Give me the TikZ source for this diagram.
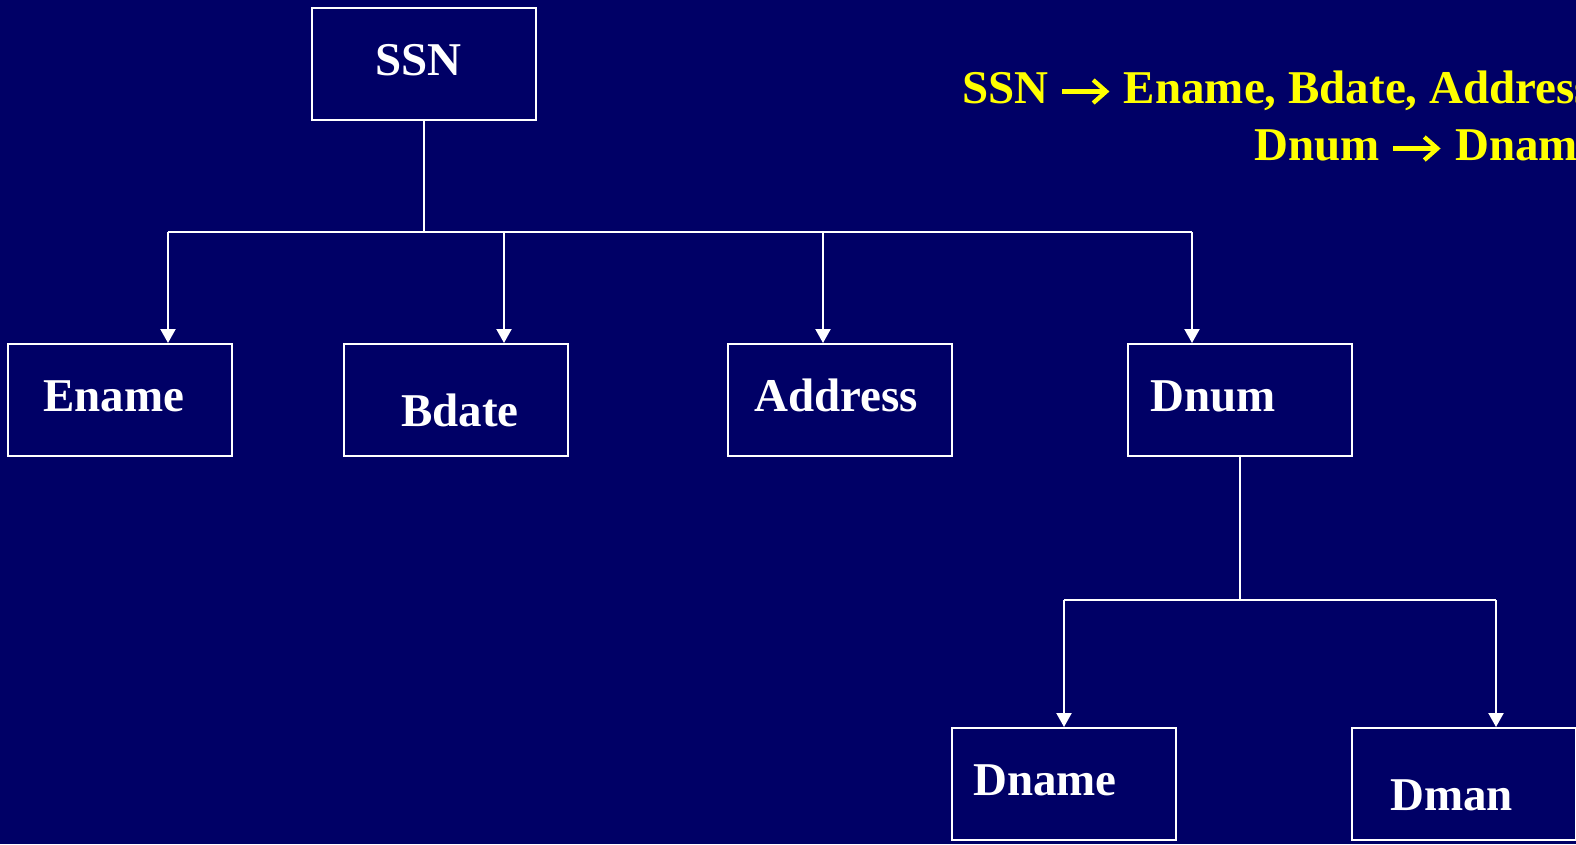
\documentclass[tikz,border=0pt]{standalone}
\usepackage{fontspec}
\setmainfont{Liberation Serif}
\usetikzlibrary{arrows.meta}
\definecolor{navy}{RGB}{0,0,102}
\definecolor{fdyellow}{RGB}{255,255,0}
\newcommand{\fdarrow}{\hspace{2pt}\tikz[baseline=0pt,x=1pt,y=1pt]{%
  \useasboundingbox (0,0) rectangle (50,22);
  \draw[fdyellow,line width=4.3pt] (0,11.5) -- (42,11.5);
  \draw[fdyellow,line width=4.3pt,line join=miter,miter limit=10] (31,23) -- (44,11.5) -- (31,0);}}
\begin{document}
\begin{tikzpicture}[x=1pt,y=-1pt,
  box/.style={draw=white, line width=2pt, minimum width=224pt, minimum height=112pt, inner sep=0pt},
  lbl/.style={text=white, font=\fontsize{47}{56}\selectfont\bfseries, anchor=base west, inner sep=0pt},
  fd/.style={text=fdyellow, font=\fontsize{47}{56}\selectfont\bfseries, anchor=base west, inner sep=0pt},
  conn/.style={draw=white, line width=2.2pt},
  arr/.style={conn, -{Triangle[length=14pt,width=15pt]}}]
\fill[navy] (0,0) rectangle (1576,844);
\useasboundingbox (0,0) rectangle (1576,844);
\clip (0,0) rectangle (1576,844);
% boxes
\node[box] (ssn) at (424,64) {};
\node[box] (ename) at (120,400) {};
\node[box] (bdate) at (456,400) {};
\node[box] (address) at (840,400) {};
\node[box] (dnum) at (1240,400) {};
\node[box] (dname) at (1064,784) {};
\node[box] (dman) at (1464,784) {};
% labels
\node[lbl] (tssn) at (375,75) {SSN};
\node[lbl] (tename) at (43,411) {Ename};
\node[lbl] (tbdate) at (401,426) {Bdate};
\node[lbl] (taddress) at (754,411) {Address};
\node[lbl] (tdnum) at (1150,411) {Dnum};
\node[lbl] (tdname) at (973,795) {Dname};
\node[lbl] (tdman) at (1390,810) {Dman};
% FDs
\node[fd] (fd1) at (962,103) {SSN \fdarrow{} Ename, Bdate, Address};
\node[fd] (fd2) at (1254,160) {Dnum \fdarrow{} Dname};
% connectors
\coordinate (j1) at (424,232);
\coordinate (jl) at (168,232);
\coordinate (jr) at (1192,232);
\draw[conn] (ssn.south) -- (j1);
\draw[conn] (jl) -- (jr);
\draw[arr] (jl) -- (ename.north -| jl);
\draw[arr] (504,232) -- (bdate.north -| 504,0);
\draw[arr] (823,232) -- (address.north -| 823,0);
\draw[arr] (jr) -- (dnum.north -| jr);
\coordinate (j2) at (1240,600);
\coordinate (j2l) at (1064,600);
\coordinate (j2r) at (1496,600);
\draw[conn] (dnum.south) -- (j2);
\draw[conn] (j2l) -- (j2r);
\draw[arr] (j2l) -- (dname.north -| j2l);
\draw[arr] (j2r) -- (dman.north -| j2r);
\end{tikzpicture}
\end{document}
